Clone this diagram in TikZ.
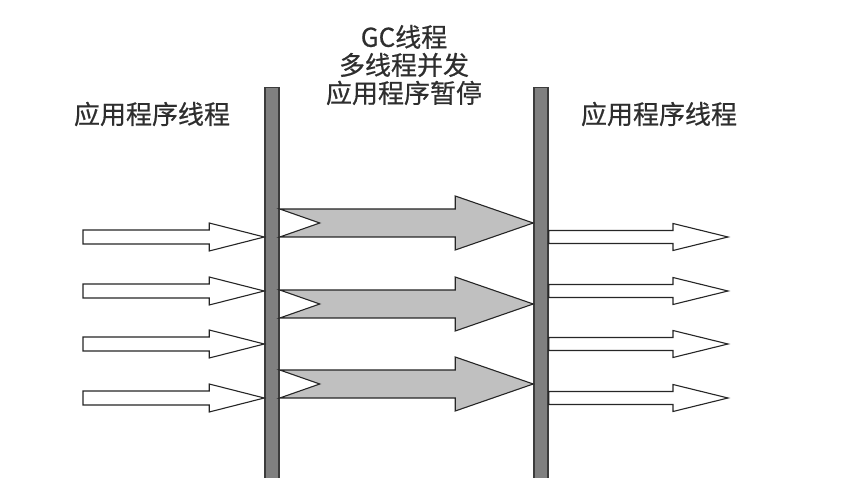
\documentclass[tikz,border=0pt]{standalone}
\usepackage{fontspec}
\usepackage{tikz}
\usetikzlibrary{calc, positioning}
\newfontfamily\cjk[FakeBold=0.6]{Noto Sans CJK SC}
\definecolor{gcBar}{HTML}{808080}
\definecolor{gcEdge}{HTML}{3C3C3C}
\definecolor{gcFill}{HTML}{C0C0C0}
\definecolor{gcText}{HTML}{2E2E2E}

% hollow block arrow: [style] {tail} {tip} {shaft half} {head half} {head length}
\newcommand{\appthread}[6][]{%
  \draw[#1] ($(#2)+(0,#4)$) -- ($(#3)+(-#6,#4)$) -- ($(#3)+(-#6,#5)$) -- (#3)
    -- ($(#3)+(-#6,-#5)$) -- ($(#3)+(-#6,-#4)$) -- ($(#2)+(0,-#4)$) -- cycle;}
% notched block arrow for the gc threads
\newcommand{\gcthread}[3][]{%
  \draw[#1] ($(#2)+(0,14)$) -- ($(#3)+(-78,14)$) -- ($(#3)+(-78,27)$) -- (#3)
    -- ($(#3)+(-78,-27)$) -- ($(#3)+(-78,-14)$) -- ($(#2)+(0,-14)$)
    -- ($(#2)+(40,0)$) -- cycle;}

\begin{document}
\begin{tikzpicture}[
  x=1pt, y=-1pt,
  bar/.style={draw=gcEdge, fill=gcBar, line width=1.5pt, minimum width=14pt,
              minimum height=392pt, inner sep=0pt, anchor=north},
  label/.style={font=\cjk\fontsize{26}{28}\selectfont, text=gcText, align=center,
                inner sep=0pt},
  hollow/.style={draw=black!85, fill=white, line width=1.1pt, line join=miter},
  shaded/.style={draw=black!85, fill=gcFill, line width=1.1pt, line join=miter}
]
  \useasboundingbox (0,0) rectangle (849,478);

  % text
  \node[label] (appL) at (152,114) {应用程序线程};
  \node[label] (gc) at (404,65) {GC线程\\多线程并发\\应用程序暂停};
  \node[label] (appR) at (659,114) {应用程序线程};

  % safepoint bars
  \node[bar] (lbar) at (272,87) {};
  \node[bar] (rbar) at (541,87) {};

  % application threads before the pause
  \coordinate (in1) at (83,237);
  \coordinate (in2) at (83,291);
  \coordinate (in3) at (83,344);
  \coordinate (in4) at (83,398);
  \appthread[hollow]{in1}{lbar.west |- in1}{7}{14}{55}
  \appthread[hollow]{in2}{lbar.west |- in2}{7}{14}{55}
  \appthread[hollow]{in3}{lbar.west |- in3}{7}{14}{55}
  \appthread[hollow]{in4}{lbar.west |- in4}{7}{14}{55}

  % gc threads
  \coordinate (gc1) at (0,223);
  \coordinate (gc2) at (0,304);
  \coordinate (gc3) at (0,384);
  \gcthread[shaded]{lbar.east |- gc1}{rbar.west |- gc1}
  \gcthread[shaded]{lbar.east |- gc2}{rbar.west |- gc2}
  \gcthread[shaded]{lbar.east |- gc3}{rbar.west |- gc3}

  % application threads after the pause
  \coordinate (out1) at (728,237);
  \coordinate (out2) at (728,291);
  \coordinate (out3) at (728,344);
  \coordinate (out4) at (728,398);
  \appthread[hollow]{rbar.east |- out1}{out1}{6.5}{13.5}{55}
  \appthread[hollow]{rbar.east |- out2}{out2}{6.5}{13.5}{55}
  \appthread[hollow]{rbar.east |- out3}{out3}{6.5}{13.5}{55}
  \appthread[hollow]{rbar.east |- out4}{out4}{6.5}{13.5}{55}
\end{tikzpicture}
\end{document}
